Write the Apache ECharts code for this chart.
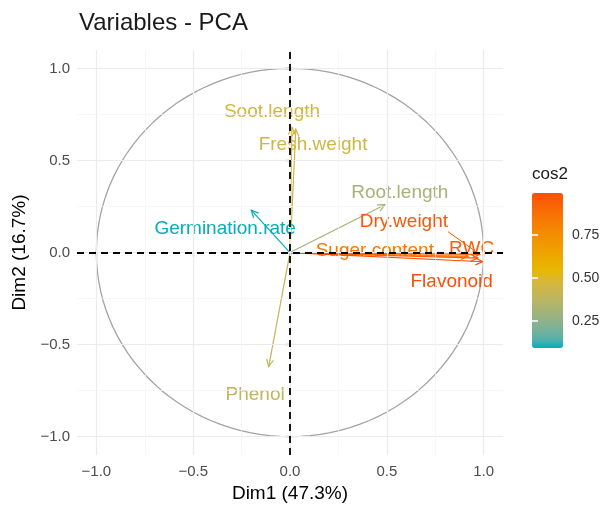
<!DOCTYPE html>
<html><head><meta charset="utf-8">
<script src="https://cdn.jsdelivr.net/npm/echarts@6/dist/echarts.min.js"></script>
<style>html,body{margin:0;padding:0;background:#fff}#c{width:608px;height:508px}</style>
</head><body><div id="c"></div><script>
// ---- data ----
const variables = ['Soot.length','Fresh.weight','Germination.rate','Root.length','Dry.weight','Suger content','RWC','Flavonoid','Phenol'];
const dim1 = [0.01, 0.03, -0.20, 0.49, 0.98, 0.92, 0.97, 0.995, -0.11];
const dim2 = [0.68, 0.67, 0.23, 0.26, -0.01, -0.02, -0.03, -0.05, -0.62];
const labelDim1 = [-0.093, 0.119, -0.335, 0.567, 0.588, 0.438, 0.938, 0.835, -0.180];
const labelDim2 = [0.765, 0.588, 0.130, 0.322, 0.165, 0.012, 0.022, -0.157, -0.775];
const showSegment = [false, false, false, false, true, true, false, false, false];
const axisTicks = [-1, -0.5, 0, 0.5, 1];
const minorTicks = [-0.75, -0.25, 0.25, 0.75];
const legendTicks = [0.25, 0.5, 0.75];
const titleText = 'Variables - PCA';
const xTitle = 'Dim1 (47.3%)';
const yTitle = 'Dim2 (16.7%)';
const legendTitle = 'cos2';
const gradientCols = ['#00AFBB', '#E7B800', '#FC4E07'];

// ---- derived ----
const FONT = '"Liberation Sans", Arial, Helvetica, sans-serif';
const LABEL_SIZE = 19;
const cos2 = dim1.map((x, i) => x * x + dim2[i] * dim2[i]);
const cosMin = Math.min(...cos2), cosMax = Math.max(...cos2);
const circle = [];
for (let k = 0; k <= 120; k++) { const t = 2 * Math.PI * k / 120; circle.push([Math.cos(t), Math.sin(t)]); }
const arrowData = variables.map((n, i) => [dim1[i], dim2[i], labelDim1[i], labelDim2[i], cos2[i]]);
const mctx = document.createElement('canvas').getContext('2d');
mctx.font = LABEL_SIZE + 'px ' + FONT;
const fmt1 = v => (v < 0 ? '\u2212' : '') + Math.abs(v).toFixed(1);

// Lab-space colour interpolation (as ggplot's gradientn does)
function hexToLab(h) {
  const c = [1, 3, 5].map(k => parseInt(h.substr(k, 2), 16) / 255).map(v => v <= 0.04045 ? v / 12.92 : Math.pow((v + 0.055) / 1.055, 2.4));
  let X = (c[0] * 0.4124 + c[1] * 0.3576 + c[2] * 0.1805) / 0.95047;
  let Y = (c[0] * 0.2126 + c[1] * 0.7152 + c[2] * 0.0722);
  let Z = (c[0] * 0.0193 + c[1] * 0.1192 + c[2] * 0.9505) / 1.08883;
  const f = t => t > 0.008856 ? Math.cbrt(t) : 7.787 * t + 16 / 116;
  X = f(X); Y = f(Y); Z = f(Z);
  return [116 * Y - 16, 500 * (X - Y), 200 * (Y - Z)];
}
function labToHex(lab) {
  const Y = (lab[0] + 16) / 116, X = lab[1] / 500 + Y, Z = Y - lab[2] / 200;
  const fi = t => t * t * t > 0.008856 ? t * t * t : (t - 16 / 116) / 7.787;
  const x = fi(X) * 0.95047, y = fi(Y), z = fi(Z) * 1.08883;
  let r = x * 3.2406 + y * -1.5372 + z * -0.4986;
  let g = x * -0.9689 + y * 1.8758 + z * 0.0415;
  let b = x * 0.0557 + y * -0.2040 + z * 1.0570;
  return '#' + [r, g, b].map(v => { v = v > 0.0031308 ? 1.055 * Math.pow(v, 1 / 2.4) - 0.055 : 12.92 * v; v = Math.round(Math.min(1, Math.max(0, v)) * 255); return (v < 16 ? '0' : '') + v.toString(16); }).join('');
}
const labs = gradientCols.map(hexToLab);
const stops = [];
for (let k = 0; k <= 20; k++) {
  const p = k / 20 * (labs.length - 1); const s = Math.min(Math.floor(p), labs.length - 2); const f = p - s;
  stops.push(labToHex(labs[s].map((v, j) => v + (labs[s + 1][j] - v) * f)));
}

const chart = echarts.init(document.getElementById('c'), null, { renderer: 'canvas' });
const gridLines = [];
axisTicks.forEach(v => { gridLines.push({ xAxis: v, lineStyle: { color: '#ebebeb', width: 1.2, type: 'solid' } }); gridLines.push({ yAxis: v, lineStyle: { color: '#ebebeb', width: 1.2, type: 'solid' } }); });
minorTicks.forEach(v => { gridLines.push({ xAxis: v, lineStyle: { color: '#f3f3f3', width: 0.7, type: 'solid' } }); gridLines.push({ yAxis: v, lineStyle: { color: '#f3f3f3', width: 0.7, type: 'solid' } }); });

chart.setOption({
  animation: false,
  backgroundColor: '#fff',
  textStyle: { fontFamily: FONT },
  title: [
    { text: titleText, left: 79, top: 11, padding: 0, textStyle: { fontSize: 24, fontWeight: 'normal', color: '#1a1a1a', fontFamily: FONT } },
    { text: legendTitle, left: 532, top: 166, padding: 0, textStyle: { fontSize: 17, fontWeight: 'normal', color: '#1a1a1a', fontFamily: FONT } }
  ],
  grid: [
    { left: 77, top: 50, width: 426, height: 412 },
    { left: 532, top: 193, width: 31, height: 155 }
  ],
  xAxis: [
    { type: 'value', gridIndex: 0, min: -1.1, max: 1.1, name: xTitle, nameLocation: 'middle', nameGap: 26,
      nameTextStyle: { fontSize: 19, color: '#000', fontFamily: FONT },
      axisLine: { show: false }, splitLine: { show: false },
      axisTick: { show: true, length: 4, customValues: axisTicks, lineStyle: { color: '#333', width: 1.2 } },
      axisLabel: { customValues: axisTicks, formatter: fmt1, fontSize: 15, color: '#4d4d4d', margin: 9, fontFamily: FONT } },
    { type: 'value', gridIndex: 1, min: 0, max: 1, show: false }
  ],
  yAxis: [
    { type: 'value', gridIndex: 0, min: -1.1, max: 1.1, name: yTitle, nameLocation: 'middle', nameGap: 46, nameRotate: 90,
      nameTextStyle: { fontSize: 19, color: '#000', fontFamily: FONT },
      axisLine: { show: false }, splitLine: { show: false },
      axisTick: { show: true, length: 4, customValues: axisTicks, lineStyle: { color: '#333', width: 1.2 } },
      axisLabel: { customValues: axisTicks, formatter: fmt1, fontSize: 15, color: '#4d4d4d', margin: 7, fontFamily: FONT } },
    { type: 'value', gridIndex: 1, min: cosMin, max: cosMax, position: 'right', z: 10,
      axisLine: { show: false }, splitLine: { show: false },
      axisTick: { show: true, inside: true, length: 6, customValues: legendTicks, lineStyle: { color: '#fff', width: 1.5 } },
      axisLabel: { customValues: legendTicks, formatter: v => v.toFixed(2), fontSize: 14, color: '#333', margin: 9, fontFamily: FONT } },
    { type: 'value', gridIndex: 1, min: cosMin, max: cosMax, position: 'left', z: 10,
      axisLine: { show: false }, splitLine: { show: false },
      axisTick: { show: true, inside: true, length: 6, customValues: legendTicks, lineStyle: { color: '#fff', width: 1.5 } },
      axisLabel: { show: false } }
  ],
  visualMap: {
    type: 'continuous', min: cosMin, max: cosMax, dimension: 4, seriesIndex: 2,
    inRange: { color: stops },
    left: 532, top: 193, itemWidth: 31, itemHeight: 155, padding: 0,
    calculable: false, orient: 'vertical', z: 4
  },
  series: [
    { type: 'line', xAxisIndex: 0, yAxisIndex: 0, data: [[0, 0]], showSymbol: false, silent: true, z: 0,
      lineStyle: { opacity: 0 },
      markLine: { silent: true, symbol: ['none', 'none'], label: { show: false }, animation: false, data: gridLines } },
    { type: 'line', xAxisIndex: 0, yAxisIndex: 0, data: circle, showSymbol: false, silent: true, z: 1,
      lineStyle: { color: '#a3a3a3', width: 1.3 } },
    { type: 'custom', xAxisIndex: 0, yAxisIndex: 0, data: arrowData, z: 3, silent: true,
      renderItem: function (params, api) {
        const i = params.dataIndex;
        const o = api.coord([0, 0]);
        const t = api.coord([api.value(0), api.value(1)]);
        const l = api.coord([api.value(2), api.value(3)]);
        const color = api.visual('color');
        const ang = Math.atan2(t[1] - o[1], t[0] - o[0]);
        const L = 8, a = Math.PI / 7;
        const p1 = [t[0] - L * Math.cos(ang - a), t[1] - L * Math.sin(ang - a)];
        const p2 = [t[0] - L * Math.cos(ang + a), t[1] - L * Math.sin(ang + a)];
        const children = [
          { type: 'line', shape: { x1: o[0], y1: o[1], x2: t[0], y2: t[1] }, style: { stroke: color, lineWidth: 1.2 } },
          { type: 'polyline', shape: { points: [p1, t, p2] }, style: { stroke: color, lineWidth: 1.2, fill: null } },
          { type: 'text', x: l[0], y: l[1], style: { text: variables[i], fill: color, fontSize: LABEL_SIZE, fontFamily: FONT, align: 'center', verticalAlign: 'middle' } }
        ];
        if (showSegment[i]) {
          const w = mctx.measureText(variables[i]).width, h = LABEL_SIZE;
          const sx = Math.min(Math.max(t[0], l[0] - w / 2), l[0] + w / 2);
          const sy = Math.min(Math.max(t[1], l[1] - h / 2), l[1] + h / 2);
          children.push({ type: 'line', shape: { x1: sx, y1: sy, x2: t[0], y2: t[1] }, style: { stroke: color, lineWidth: 1 } });
        }
        return { type: 'group', children: children };
      } },
    { type: 'line', xAxisIndex: 0, yAxisIndex: 0, data: [[0, 0]], showSymbol: false, silent: true, z: 10,
      lineStyle: { opacity: 0 },
      markLine: { silent: true, symbol: ['none', 'none'], label: { show: false }, animation: false, z: 10,
        lineStyle: { color: '#000', width: 1.8, type: [7, 5] },
        data: [{ xAxis: 0 }, { yAxis: 0 }] } }
  ]
});
</script></body></html>
